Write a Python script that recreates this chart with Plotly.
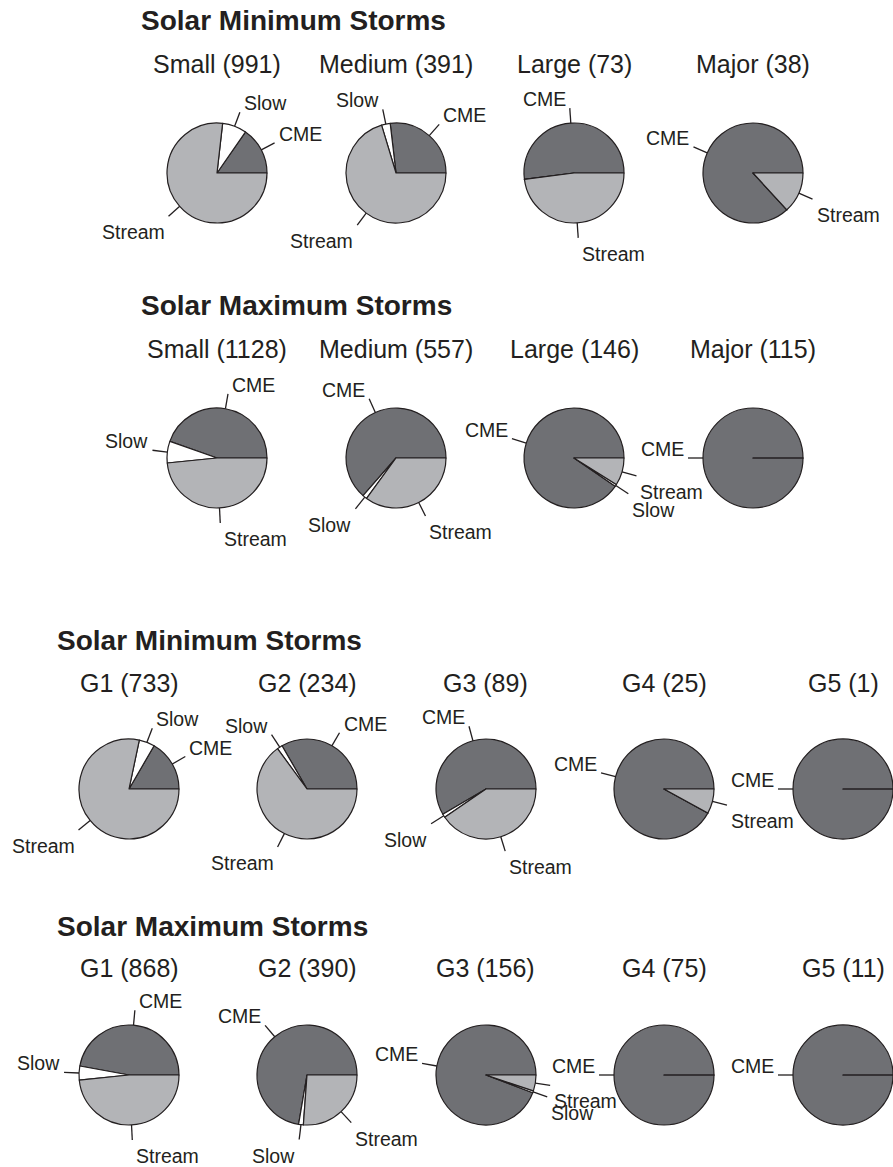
import math
import plotly.graph_objects as go

W, H = 893, 1167
R = 50  # pie radius in px

INK = "#231f20"
FONT = "Liberation Sans, Arial, Helvetica, sans-serif"

# Cause of each storm, counter-clockwise from 3 o'clock
CAUSES = ["CME", "Slow", "Stream"]
CAUSE_COLORS = ["#6f7074", "#ffffff", "#b3b4b7"]

# Storms grouped by size
SIZE_CATEGORIES = ["Small", "Medium", "Large", "Major"]
min_size_cme = [152, 105, 38, 33]
min_size_slow = [78, 11, 0, 0]
min_size_stream = [761, 275, 35, 5]
max_size_cme = [503, 354, 132, 115]
max_size_slow = [79, 8, 1, 0]
max_size_stream = [546, 195, 13, 0]

# Storms grouped by NOAA G-scale
G_CATEGORIES = ["G1", "G2", "G3", "G4", "G5"]
min_g_cme = [122, 78, 52, 23, 1]
min_g_slow = [37, 4, 1, 0, 0]
min_g_stream = [574, 152, 36, 2, 0]
max_g_cme = [409, 282, 147, 75, 11]
max_g_slow = [39, 6, 1, 0, 0]
max_g_stream = [420, 102, 8, 0, 0]

SIZE_COLS = [217, 396, 574, 753]
G_COLS = [129, 307, 486, 664, 843]

panels = [
    dict(title="Solar Minimum Storms", title_x=139, title_y=21, head_y=64, pie_y=173,
         cols=SIZE_COLS, cats=SIZE_CATEGORIES,
         series=(min_size_cme, min_size_slow, min_size_stream)),
    dict(title="Solar Maximum Storms", title_x=139, title_y=306, head_y=349, pie_y=458,
         cols=SIZE_COLS, cats=SIZE_CATEGORIES,
         series=(max_size_cme, max_size_slow, max_size_stream)),
    dict(title="Solar Minimum Storms", title_x=55, title_y=641, head_y=683, pie_y=789,
         cols=G_COLS, cats=G_CATEGORIES,
         series=(min_g_cme, min_g_slow, min_g_stream)),
    dict(title="Solar Maximum Storms", title_x=55, title_y=926, head_y=968, pie_y=1075,
         cols=G_COLS, cats=G_CATEGORIES,
         series=(max_g_cme, max_g_slow, max_g_stream)),
]


def px(x):
    return x / W


def py(y):
    return 1 - y / H


fig = go.Figure()
shapes = []
annotations = []


def add_pie(cx, cy, values):
    total = sum(values)
    # With counter-clockwise direction Plotly anchors the *end* of the first
    # slice at `rotation`, so shift it by the first slice so that CME starts
    # at 3 o'clock and the causes follow counter-clockwise.
    rot = 90 - 360.0 * values[0] / total
    fig.add_trace(go.Pie(
        values=values, labels=CAUSES, sort=False,
        direction="counterclockwise", rotation=rot,
        marker=dict(colors=CAUSE_COLORS, line=dict(color=INK, width=1.2)),
        textinfo="none", hoverinfo="skip", showlegend=False,
        domain=dict(x=[max(0, px(cx - R)), min(1, px(cx + R))],
                    y=[max(0, py(cy + R)), min(1, py(cy - R))]),
    ))
    start = 0.0
    for lab, v in zip(CAUSES, values):
        if v <= 0:
            continue
        mid = start + 180.0 * v / total
        start += 360.0 * v / total
        a = math.radians(mid)
        c, s = math.cos(a), math.sin(a)
        x0, y0 = cx + R * c, cy - R * s
        x1, y1 = cx + 1.3 * R * c, cy - 1.3 * R * s
        shapes.append(dict(type="line", xref="paper", yref="paper",
                           x0=px(x0), y0=py(y0), x1=px(x1), y1=py(y1),
                           line=dict(color=INK, width=1.3)))
        right = c > 0
        upper = mid <= 180
        annotations.append(dict(
            text=lab, xref="paper", yref="paper", x=px(x1), y=py(y1),
            xanchor="left" if right else "right", yanchor="middle",
            xshift=2 if right else -2, yshift=9 if upper else -16,
            showarrow=False, font=dict(family=FONT, size=19.5, color=INK),
        ))


for p in panels:
    annotations.append(dict(
        text="<b>%s</b>" % p["title"], xref="paper", yref="paper",
        x=px(p["title_x"]), y=py(p["title_y"]), xanchor="left", yanchor="middle",
        showarrow=False, font=dict(family=FONT, size=28, color=INK),
    ))
    cme, slow, stream = p["series"]
    for i, cat in enumerate(p["cats"]):
        vals = [cme[i], slow[i], stream[i]]
        cx = p["cols"][i]
        annotations.append(dict(
            text="%s (%d)" % (cat, sum(vals)), xref="paper", yref="paper",
            x=px(cx), y=py(p["head_y"]), xanchor="center", yanchor="middle",
            showarrow=False, font=dict(family=FONT, size=25, color=INK),
        ))
        add_pie(cx, p["pie_y"], vals)

fig.update_layout(
    width=W, height=H,
    margin=dict(l=0, r=0, t=0, b=0),
    paper_bgcolor="white", plot_bgcolor="white",
    showlegend=False,
    shapes=shapes, annotations=annotations,
)

fig.write_html("out.html")
